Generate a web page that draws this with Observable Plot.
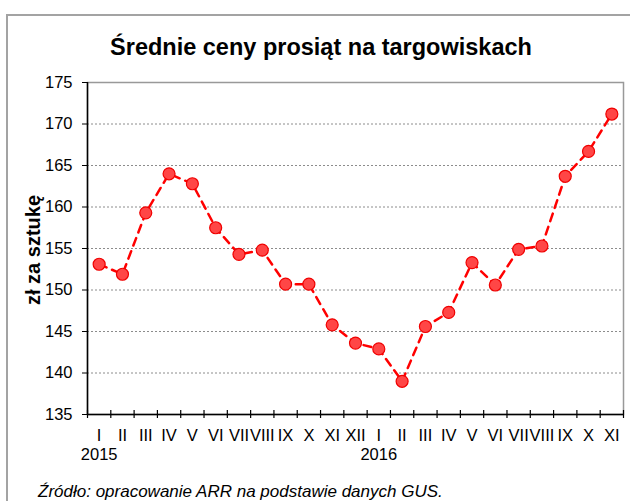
<!DOCTYPE html>
<html><head><meta charset="utf-8">
<script src="https://cdn.jsdelivr.net/npm/d3@7"></script>
<script src="https://cdn.jsdelivr.net/npm/@observablehq/plot@0.6"></script>
<style>
body{margin:0;background:#fff;}
#wrap{position:relative;width:630px;height:501px;overflow:hidden;font-family:"Liberation Sans",Arial,sans-serif;color:#000;}
#outer{position:absolute;left:6px;top:14px;width:700px;height:600px;border:2px solid #a3a3a3;}
#title{position:absolute;top:33px;left:0;width:642px;text-align:center;font-weight:bold;font-size:23.5px;line-height:28px;}
#ylabel{position:absolute;left:33px;top:250px;transform:translate(-50%,-50%) rotate(-90deg);font-weight:bold;font-size:20px;white-space:nowrap;}
#caption{position:absolute;left:38px;top:482px;font-style:italic;font-size:17px;white-space:nowrap;}
#chart{position:absolute;left:0;top:0;}
</style>
</head><body>
<div id="wrap">
  <div id="outer"></div>
  <div id="chart"></div>
  <div id="title">Średnie ceny prosiąt na targowiskach</div>
  <div id="ylabel">zł za sztukę</div>
  <div id="caption">Źródło: opracowanie ARR na podstawie danych GUS.</div>
</div>
<script>
const months = ["I","II","III","IV","V","VI","VII","VIII","IX","X","XI","XII",
                "I","II","III","IV","V","VI","VII","VIII","IX","X","XI"];
const years = ["2015","","","","","","","","","","","",
               "2016","","","","","","","","","",""];
const prices = [153.1,151.9,159.3,164.0,162.8,157.5,154.3,154.8,150.7,150.7,145.8,143.6,
                142.9,139.0,145.6,147.3,153.3,150.6,154.9,155.3,163.7,166.7,171.2];
const yTicks = [135,140,145,150,155,160,165,170,175];

const data = prices.map((v, i) => ({i, v}));
const n = months.length;
const boundaries = d3.range(n + 1).map(k => k - 0.5);
const grid = yTicks.filter(t => t > yTicks[0] && t < yTicks[yTicks.length - 1]);

const chart = Plot.plot({
  width: 630, height: 501,
  marginTop: 82, marginBottom: 87, marginLeft: 87, marginRight: 7,
  x: {type: "linear", domain: [-0.5, n - 0.5]},
  y: {domain: [yTicks[0], yTicks[yTicks.length - 1]]},
  style: {fontFamily: "'Liberation Sans', Arial, sans-serif", fontSize: "16.5px", color: "#000", background: "transparent"},
  marks: [
    Plot.ruleY(grid, {stroke: "#8c8c8c", strokeDasharray: "2,2", strokeWidth: 1}),
    Plot.frame({stroke: "#999", strokeWidth: 1.5}),
    Plot.ruleX([boundaries[0]], {stroke: "#000", strokeWidth: 1.5}),
    Plot.ruleY([yTicks[0]], {stroke: "#000", strokeWidth: 1.5}),
    Plot.ruleX(boundaries, {x: d => d, y1: yTicks[0], y2: yTicks[0], insetTop: -4, insetBottom: -4, stroke: "#000", strokeWidth: 1.2}),
    Plot.axisY({ticks: yTicks, tickSize: 5, tickPadding: 10, label: null, fontSize: 16.5, stroke: "#000"}),
    Plot.axisX({ticks: d3.range(n), tickSize: 0, tickPadding: 12, label: null, fontSize: 16.5, lineHeight: 1.2,
      tickFormat: i => months[i] + (years[i] ? "\n" + years[i] : "")}),
    Plot.line(data, {x: "i", y: "v", stroke: "#ff0000", strokeWidth: 2.5, strokeDasharray: "8,6"}),
    Plot.dot(data, {x: "i", y: "v", r: 6, fill: "#ff4646", stroke: "#f00000", strokeWidth: 1.2})
  ]
});
document.getElementById("chart").appendChild(chart);
</script>
</body></html>
